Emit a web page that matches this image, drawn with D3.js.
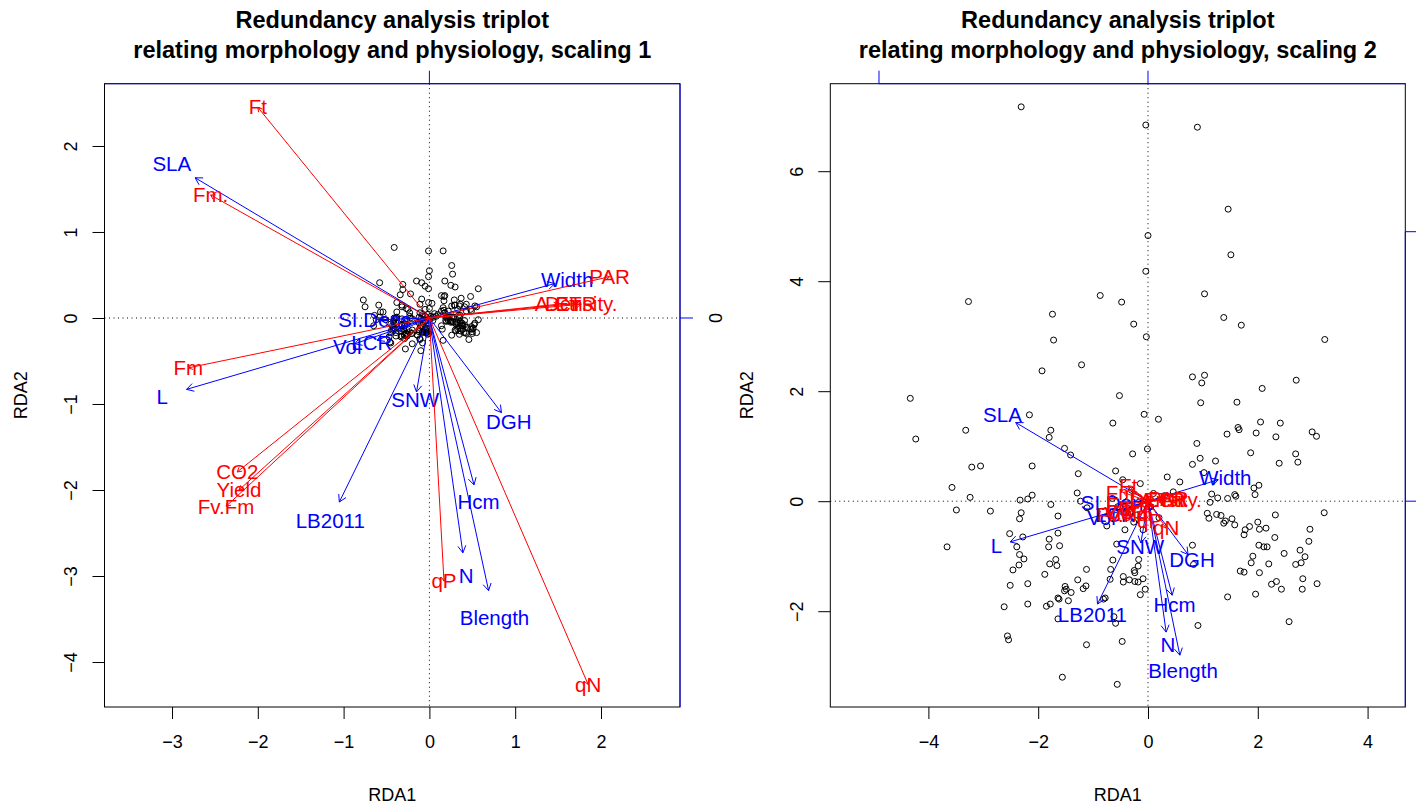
<!DOCTYPE html>
<html>
<head>
<meta charset="utf-8">
<script src="https://cdnjs.cloudflare.com/ajax/libs/d3/7.8.5/d3.min.js"></script>
<style>
  body { margin: 0; background: #ffffff; }
  svg { display: block; }
  text { font-family: "Liberation Sans", Arial, Helvetica, sans-serif; }
</style>
</head>
<body>
<script>
// ---------------- data ----------------
const titleLine1 = "Redundancy analysis triplot";
const titleLine2 = ["relating morphology and physiology, scaling 1",
                    "relating morphology and physiology, scaling 2"];
const axisTitles = ["RDA1", "RDA2"];

// axis limits and ticks of the two panels
const xDomain1 = [-3.787, 2.921], yDomain1 = [-4.523, 2.724];
const xDomain2 = [-5.787, 4.687], yDomain2 = [-3.742, 7.591];
const xTicks1 = [-3, -2, -1, 0, 1, 2], yTicks1 = [-4, -3, -2, -1, 0, 1, 2];
const xTicks2 = [-4, -2, 0, 2, 4],     yTicks2 = [-2, 0, 2, 4, 6];
// secondary (response-score) axes, drawn in blue on top and right
const speciesTicks = [-1, 0, 1];
const speciesAxisUnit = [5.0, 4.9];   // plot units per unit of the blue axis

// response variables (morphology), blue arrows
const responseNames = ["SLA", "L", "LB2011", "SNW", "DGH", "Hcm", "N", "Blength",
                       "Width", "SI.Dens", "Vol", "LCR"];
const responseScaling1 = [[-2.73, 1.63], [-2.83, -0.83], [-1.05, -2.14], [-0.15, -0.86],
  [0.84, -1.10], [0.52, -1.94], [0.39, -2.73], [0.69, -3.17], [1.46, 0.40],
  [-0.58, -0.02], [-0.87, -0.30], [-0.61, -0.26]];
const responseScaling2 = [[-2.41, 1.43], [-2.51, -0.74], [-0.92, -1.87], [-0.13, -0.76],
  [0.73, -0.97], [0.44, -1.71], [0.33, -2.38], [0.58, -2.80], [1.28, 0.39],
  [-0.51, -0.02], [-0.77, -0.27], [-0.54, -0.23]];

// explanatory variables (physiology), red arrows
const explanatoryNames = ["Ft", "Fm.", "Fm", "CO2", "Yield", "Fv.Fm", "qP", "qN",
                          "PAR", "A.Ctr", "ETR", "Density."];
const explanatoryScaling1 = [[-2.00, 2.45], [-2.55, 1.43], [-2.81, -0.58], [-2.24, -1.79],
  [-2.22, -2.00], [-2.37, -2.19], [0.17, -3.06], [1.85, -4.26], [2.10, 0.48],
  [1.50, 0.16], [1.71, 0.17], [1.77, 0.16]];
const explanatoryScaling2 = [[-0.36, 0.28], [-0.45, 0.16], [-0.50, -0.07], [-0.40, -0.20],
  [-0.40, -0.23], [-0.42, -0.25], [0.03, -0.35], [0.33, -0.49], [0.37, 0.05],
  [0.27, 0.02], [0.30, 0.02], [0.32, 0.02]];

// site scores, scaling 1
const sitesScaling1 = [
  [-0.41,0.82],[-0.01,0.78],[0.16,0.78],[0.26,0.61],[0.00,0.55],[0.27,0.51],[-0.01,0.48],
  [-0.15,0.43],[-0.09,0.41],[0.18,0.43],[-0.58,0.41],[-0.31,0.39],[-0.05,0.37],[0.25,0.38],
  [0.30,0.36],[-0.01,0.34],[-0.31,0.33],[0.57,0.34],[-0.34,0.27],[-0.22,0.28],[0.14,0.26],
  [0.18,0.26],[0.17,0.25],[0.48,0.25],[0.37,0.23],[-0.77,0.21],[-0.09,0.22],
  [-0.38,0.18],[-0.59,0.15],[-0.75,0.13],[-0.32,0.15],[-0.32,0.13],[-0.11,0.16],[-0.27,0.11],
  [-0.25,0.10],[-0.57,0.07],[-0.54,0.07],[-0.38,0.07],[-0.23,0.06],[-0.11,0.06],[-0.64,0.03],
  [-0.58,0.01],[-0.23,0.02],[-0.22,0.00],[-0.41,0.00],[-0.39,0.00],[-0.38,0.01],[-0.32,-0.01],
  [-0.62,-0.02],[-0.51,-0.02],[-0.41,-0.02],[-0.42,-0.04],[-0.29,-0.03],[-0.20,-0.01],[-0.13,-0.05],
  [-0.45,-0.07],[-0.41,-0.07],[-0.29,-0.07],[-0.32,-0.08],[-0.65,-0.09],[-0.43,-0.09],[-0.32,-0.09],
  [-0.29,-0.09],[-0.42,-0.11],[-0.40,-0.12],[-0.42,-0.13],[-0.44,-0.14],[-0.30,-0.12],[-0.32,-0.13],
  [-0.30,-0.13],[-0.33,-0.15],[-0.20,-0.14],[-0.11,-0.12],[-0.12,-0.14],[-0.12,-0.16],[-0.10,-0.09],
  [-0.45,-0.17],[-0.39,-0.17],[-0.23,-0.16],[-0.27,-0.18],[-0.27,-0.18],[-0.27,-0.19],[-0.25,-0.19],
  [-0.21,-0.18],[-0.20,-0.18],[-0.47,-0.22],[-0.39,-0.21],[-0.33,-0.22],[-0.32,-0.21],[-0.29,-0.20],
  [-0.29,-0.20],[-0.26,-0.21],[-0.14,-0.20],[-0.14,-0.20],[-0.29,-0.24],[-0.11,-0.24],[-0.11,-0.25],
  [-0.46,-0.28],[-0.45,-0.29],[-0.20,-0.30],[-0.28,-0.36],[-0.10,-0.38],
  [-0.05,0.10],[0.00,0.11],[-0.01,0.18],[0.03,0.17],[-0.08,0.04],[-0.02,0.04],[0.06,0.05],
  [0.10,0.04],[0.02,0.02],
  [0.17,0.20],[0.29,0.21],[0.36,0.16],[0.43,0.16],[0.29,0.15],[0.30,0.15],[0.26,0.14],
  [0.35,0.14],[0.41,0.13],[0.53,0.14],[0.55,0.13],[0.16,0.12],[0.33,0.10],[0.48,0.10],
  [0.49,0.08],[0.43,0.08],[0.17,0.09],[0.14,0.08],[0.22,0.08],[0.18,0.06],[0.34,0.03],
  [0.36,0.03],[0.35,0.01],[0.21,0.01],[0.23,0.01],[0.26,0.01],[0.28,0.01],[0.28,0.01],
  [0.20,0.00],[0.08,0.02],[0.57,-0.02],[0.19,-0.03],[0.20,-0.04],[0.22,-0.03],[0.24,-0.03],
  [0.27,-0.04],[0.25,-0.04],[0.25,-0.05],[0.28,-0.05],[0.41,-0.03],[0.36,-0.04],[0.38,-0.06],
  [0.36,-0.06],[0.33,-0.05],[0.32,-0.06],[0.31,-0.07],[0.53,-0.06],[0.52,-0.08],[0.41,-0.08],
  [0.36,-0.09],[0.38,-0.09],[0.39,-0.09],[0.49,-0.10],[0.51,-0.12],[0.44,-0.11],[0.34,-0.11],
  [0.33,-0.13],[0.39,-0.13],[0.48,-0.13],[0.50,-0.13],[0.30,-0.14],[0.31,-0.15],[0.36,-0.15],
  [0.50,-0.16],[0.55,-0.17],[0.40,-0.17],[0.42,-0.17],[0.43,-0.18],[0.50,-0.18],[0.35,-0.19],
  [0.26,-0.20],[0.46,-0.25],[0.16,-0.26],[0.14,-0.09],[0.15,-0.13],[-0.08,-0.29],[-0.07,-0.06],
  [-0.05,-0.04],[-0.02,-0.06],[-0.03,-0.12],[-0.03,-0.13],[-0.04,-0.14],[-0.04,-0.15],[-0.08,-0.16],
  [-0.08,-0.17],[-0.06,-0.16],[-0.04,-0.17],[-0.02,-0.16],[-0.03,-0.17],[-0.01,-0.18],[-0.02,-0.19],
  [-0.05,0.02],[-0.10,-0.01],[0.04,-0.03],[-0.04,-0.03],[0.05,0.01],[-0.12,0.01],[-0.07,-0.02],
  [0.01,-0.01]
];

// site scores, scaling 2
const sitesScaling2 = [
  [-2.31,7.17],[-0.04,6.84],[0.90,6.80],[1.46,5.31],[0.00,4.83],[1.51,4.48],[-0.04,4.18],
  [-0.87,3.74],[-0.48,3.62],[1.03,3.77],[-3.27,3.63],[-1.74,3.40],[-0.26,3.22],[1.38,3.34],
  [1.70,3.20],[-0.03,2.99],[-1.72,2.93],[3.22,2.94],[-1.93,2.37],[-1.21,2.48],[0.81,2.26],
  [1.03,2.29],[0.98,2.15],[2.70,2.20],[2.08,2.05],[-4.33,1.87],[-0.52,1.92],
  [-2.16,1.57],[-3.32,1.29],[-4.23,1.13],[-1.77,1.29],[-1.80,1.16],[-0.64,1.42],[-1.52,0.96],
  [-1.41,0.84],[-3.21,0.62],[-3.05,0.64],[-2.11,0.64],[-1.27,0.50],[-0.59,0.55],[-3.57,0.25],
  [-3.24,0.07],[-1.29,0.15],[-1.23,0.00],[-2.33,0.02],[-2.19,0.04],[-2.11,0.11],[-1.77,-0.06],
  [-3.49,-0.16],[-2.87,-0.18],[-2.31,-0.21],[-2.34,-0.32],[-1.64,-0.27],[-1.11,-0.12],[-0.75,-0.45],
  [-2.52,-0.59],[-2.28,-0.65],[-1.64,-0.58],[-1.80,-0.69],[-3.66,-0.83],[-2.39,-0.83],[-1.81,-0.83],
  [-1.61,-0.81],[-2.34,-0.97],[-2.26,-1.05],[-2.35,-1.16],[-2.46,-1.25],[-1.68,-1.06],[-1.79,-1.14],
  [-1.66,-1.17],[-1.88,-1.33],[-1.12,-1.24],[-0.64,-1.07],[-0.68,-1.24],[-0.69,-1.42],[-0.57,-0.78],
  [-2.51,-1.53],[-2.19,-1.50],[-1.28,-1.43],[-1.51,-1.55],[-1.49,-1.60],[-1.52,-1.63],[-1.40,-1.66],
  [-1.18,-1.59],[-1.13,-1.54],[-2.62,-1.92],[-2.19,-1.87],[-1.85,-1.91],[-1.78,-1.87],[-1.64,-1.76],
  [-1.62,-1.78],[-1.45,-1.81],[-0.81,-1.78],[-0.78,-1.76],[-1.64,-2.14],[-0.62,-2.10],[-0.59,-2.22],
  [-2.56,-2.45],[-2.54,-2.52],[-1.12,-2.61],[-1.56,-3.20],[-0.56,-3.33],
  [-0.28,0.86],[-0.01,0.95],[-0.07,1.58],[0.19,1.49],[-0.46,0.39],[-0.14,0.32],[0.35,0.44],
  [0.58,0.35],[0.10,0.14],
  [0.96,1.79],[1.62,1.80],[2.05,1.44],[2.41,1.42],[1.64,1.34],[1.66,1.30],[1.44,1.22],
  [1.97,1.24],[2.33,1.17],[2.99,1.26],[3.07,1.18],[0.89,1.05],[1.87,0.88],[2.69,0.86],
  [2.73,0.71],[2.39,0.69],[0.95,0.78],[0.81,0.67],[1.23,0.73],[1.02,0.52],[1.93,0.24],
  [2.02,0.29],[1.95,0.12],[1.16,0.13],[1.27,0.06],[1.45,0.05],[1.58,0.12],[1.60,0.09],
  [1.13,-0.02],[0.46,0.17],[3.21,-0.21],[1.08,-0.22],[1.11,-0.31],[1.25,-0.24],[1.33,-0.26],
  [1.53,-0.32],[1.41,-0.36],[1.38,-0.40],[1.58,-0.43],[2.32,-0.25],[2.00,-0.38],[2.15,-0.49],
  [2.03,-0.51],[1.85,-0.46],[1.77,-0.52],[1.75,-0.61],[2.95,-0.51],[2.93,-0.73],[2.31,-0.66],
  [2.02,-0.80],[2.11,-0.83],[2.17,-0.83],[2.77,-0.89],[2.86,-1.01],[2.48,-0.95],[1.91,-1.00],
  [1.88,-1.12],[2.20,-1.14],[2.69,-1.15],[2.79,-1.12],[1.68,-1.27],[1.75,-1.29],[2.03,-1.30],
  [2.82,-1.41],[3.08,-1.50],[2.25,-1.51],[2.34,-1.46],[2.43,-1.60],[2.81,-1.60],[1.96,-1.69],
  [1.45,-1.74],[2.57,-2.19],[0.91,-2.26],[0.81,-0.80],[0.83,-1.15],[-0.47,-2.55],[-0.42,-0.52],
  [-0.26,-0.38],[-0.09,-0.52],[-0.17,-1.06],[-0.18,-1.18],[-0.25,-1.26],[-0.24,-1.30],[-0.45,-1.37],
  [-0.45,-1.47],[-0.34,-1.43],[-0.24,-1.46],[-0.09,-1.41],[-0.18,-1.47],[-0.05,-1.60],[-0.14,-1.70],
  [-0.30,0.20],[-0.55,-0.10],[0.20,-0.30],[-0.20,-0.25],[0.30,0.10],[-0.65,0.05],[-0.40,-0.20],
  [0.05,-0.10]
];

// ---------------- drawing ----------------
const W = 1416, H = 804;
const svg = d3.select("body").append("svg").attr("width", W).attr("height", H);

const BLUE = "#0000ff", RED = "#ff0000";
const AXIS_FONT = 18, LABEL_FONT = 20.5, TITLE_FONT = 23.5;
const fmt = d => (d < 0 ? "\u2212" + Math.abs(d) : String(d));

const panels = [
  { frame: { l: 104.5, r: 680, t: 83.7, b: 707 }, xDom: xDomain1, yDom: yDomain1,
    xTicks: xTicks1, yTicks: yTicks1, sites: sitesScaling1, resp: responseScaling1,
    expl: explanatoryScaling1, title: titleLine2[0], unit: speciesAxisUnit[0] },
  { frame: { l: 830.3, r: 1405.3, t: 83.7, b: 707 }, xDom: xDomain2, yDom: yDomain2,
    xTicks: xTicks2, yTicks: yTicks2, sites: sitesScaling2, resp: responseScaling2,
    expl: explanatoryScaling2, title: titleLine2[1], unit: speciesAxisUnit[1] }
];

function arrow(g, x1, y1, x2, y2, len, color) {
  g.append("line").attr("x1", x1).attr("y1", y1).attr("x2", x2).attr("y2", y2)
    .attr("stroke", color).attr("stroke-width", 1);
  const a = Math.atan2(y2 - y1, x2 - x1), s = Math.PI / 6;
  const p = d3.path();
  p.moveTo(x2 - len * Math.cos(a - s), y2 - len * Math.sin(a - s));
  p.lineTo(x2, y2);
  p.lineTo(x2 - len * Math.cos(a + s), y2 - len * Math.sin(a + s));
  g.append("path").attr("d", p.toString()).attr("fill", "none")
    .attr("stroke", color).attr("stroke-width", 1);
}

panels.forEach((p, i) => {
  const f = p.frame;
  const x = d3.scaleLinear().domain(p.xDom).range([f.l, f.r]);
  const y = d3.scaleLinear().domain(p.yDom).range([f.b, f.t]);
  const cx = (f.l + f.r) / 2, cy = (f.t + f.b) / 2;

  const clipId = "clip" + i;
  svg.append("clipPath").attr("id", clipId).append("rect")
    .attr("x", f.l).attr("y", f.t).attr("width", f.r - f.l).attr("height", f.b - f.t);

  // titles
  svg.append("text").attr("x", cx).attr("y", 28).attr("text-anchor", "middle")
    .attr("font-weight", "bold").attr("font-size", TITLE_FONT).text(titleLine1);
  svg.append("text").attr("x", cx).attr("y", 58).attr("text-anchor", "middle")
    .attr("font-weight", "bold").attr("font-size", TITLE_FONT).text(p.title);

  // bottom axis
  const gx = svg.append("g").attr("transform", `translate(0,${f.b})`)
    .call(d3.axisBottom(x).tickValues(p.xTicks).tickSize(12).tickFormat(fmt));
  gx.select(".domain").remove();
  gx.selectAll("text").attr("y", 35).attr("dy", "0.35em")
    .attr("font-size", AXIS_FONT).attr("font-family", null).attr("fill", "#000");

  // left axis, rotated labels
  const gy = svg.append("g").attr("transform", `translate(${f.l},0)`)
    .call(d3.axisLeft(y).tickValues(p.yTicks).tickSize(12).tickFormat(fmt));
  gy.select(".domain").remove();
  gy.selectAll("text").attr("transform", "rotate(-90)").attr("x", 0).attr("y", -34)
    .attr("dy", "0.35em").attr("text-anchor", "middle")
    .attr("font-size", AXIS_FONT).attr("font-family", null).attr("fill", "#000");

  // axis titles
  svg.append("text").attr("x", cx).attr("y", 795).attr("dy", "0.35em")
    .attr("text-anchor", "middle").attr("font-size", AXIS_FONT).text(axisTitles[0]);
  svg.append("text").attr("transform", `translate(${f.l - 84},${cy}) rotate(-90)`)
    .attr("dy", "0.35em").attr("text-anchor", "middle")
    .attr("font-size", AXIS_FONT).text(axisTitles[1]);

  // frame
  svg.append("rect").attr("x", f.l).attr("y", f.t).attr("width", f.r - f.l)
    .attr("height", f.b - f.t).attr("fill", "none").attr("stroke", "#000");

  // blue axes for the response scores (top and right)
  const xs = d3.scaleLinear().domain([0, 1]).range([x(0), x(p.unit)]);
  const ys = d3.scaleLinear().domain([0, 1]).range([y(0), y(p.unit)]);
  const inX = speciesTicks.filter(t => xs(t) >= f.l - 0.5 && xs(t) <= f.r + 0.5);
  const inY = speciesTicks.filter(t => ys(t) >= f.t - 0.5 && ys(t) <= f.b + 0.5);
  const topA = Math.max(f.l, xs(d3.min(speciesTicks))), topB = Math.min(f.r, xs(d3.max(speciesTicks)));
  svg.append("line").attr("x1", topA).attr("x2", topB).attr("y1", f.t).attr("y2", f.t)
    .attr("stroke", BLUE);
  svg.selectAll(null).data(inX).enter().append("line")
    .attr("x1", d => xs(d)).attr("x2", d => xs(d)).attr("y1", f.t).attr("y2", f.t - 13)
    .attr("stroke", BLUE);
  const rA = Math.max(f.t, ys(d3.max(speciesTicks))), rB = Math.min(f.b, ys(d3.min(speciesTicks)));
  svg.append("line").attr("x1", f.r).attr("x2", f.r).attr("y1", rA).attr("y2", rB)
    .attr("stroke", BLUE);
  svg.selectAll(null).data(inY).enter().append("line")
    .attr("x1", f.r).attr("x2", f.r + 13).attr("y1", d => ys(d)).attr("y2", d => ys(d))
    .attr("stroke", BLUE);
  // tick labels of the right blue axis, only where they fit inside the page
  const labelX = f.r + 36;
  if (labelX + 10 < W) {
    svg.selectAll(null).data(inY).enter().append("text")
      .attr("transform", d => `translate(${labelX},${ys(d)}) rotate(-90)`)
      .attr("dy", "0.35em").attr("text-anchor", "middle").attr("font-size", AXIS_FONT)
      .text(fmt);
  }

  // plot contents, clipped to the frame
  const g = svg.append("g").attr("clip-path", `url(#${clipId})`);

  // dotted zero lines
  g.append("line").attr("x1", f.l).attr("x2", f.r).attr("y1", y(0)).attr("y2", y(0))
    .attr("stroke", "#000").attr("stroke-dasharray", "1,3.5");
  g.append("line").attr("x1", x(0)).attr("x2", x(0)).attr("y1", f.t).attr("y2", f.b)
    .attr("stroke", "#000").attr("stroke-dasharray", "1,3.5");

  // sites
  g.selectAll("circle.site").data(p.sites).enter().append("circle")
    .attr("class", "site").attr("cx", d => x(d[0])).attr("cy", d => y(d[1])).attr("r", 3)
    .attr("fill", "none").attr("stroke", "#000").attr("stroke-width", 1);

  // response arrows (blue), labels just beyond the tips
  p.resp.forEach((d, k) => arrow(g, x(0), y(0), x(d[0]), y(d[1]), 8, BLUE));
  g.selectAll("text.resp").data(p.resp).enter().append("text").attr("class", "resp")
    .attr("x", d => x(d[0] * 1.1)).attr("y", d => y(d[1] * 1.1)).attr("dy", "0.35em")
    .attr("text-anchor", "middle").attr("font-size", LABEL_FONT).attr("fill", BLUE)
    .text((d, k) => responseNames[k]);

  // explanatory arrows (red), labels at the tips
  p.expl.forEach(d => arrow(g, x(0), y(0), x(d[0]), y(d[1]), 5, RED));
  g.selectAll("text.expl").data(p.expl).enter().append("text").attr("class", "expl")
    .attr("x", d => x(d[0])).attr("y", d => y(d[1])).attr("dy", "0.35em")
    .attr("text-anchor", "middle").attr("font-size", LABEL_FONT).attr("fill", RED)
    .text((d, k) => explanatoryNames[k]);
});
</script>
</body>
</html>
